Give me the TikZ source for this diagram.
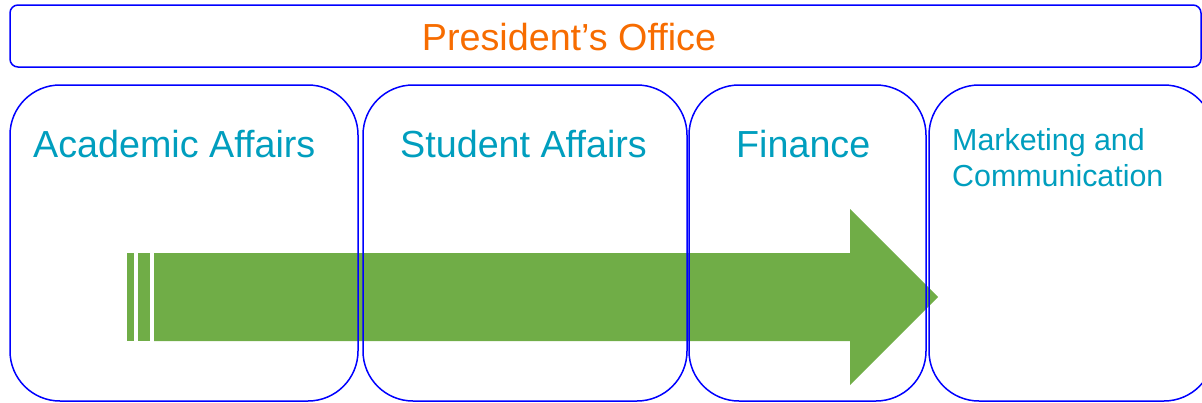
\documentclass[tikz,border=0pt]{standalone}
\usepackage{fontspec}
\setmainfont{Liberation Sans}
\definecolor{boxblue}{RGB}{0,0,255}
\definecolor{teal}{RGB}{0,158,190}
\definecolor{orng}{RGB}{247,108,0}
\definecolor{arrgreen}{RGB}{112,173,71}
\begin{document}
\begin{tikzpicture}[x=1pt,y=-1pt,
  dept/.style={draw=boxblue, line width=1.5pt, rounded corners=50pt, minimum height=316pt, inner sep=0pt, outer sep=0pt},
  topbox/.style={draw=boxblue, line width=1.5pt, rounded corners=8pt, minimum width=1191pt, minimum height=62pt, inner sep=0pt, outer sep=0pt},
  bigtxt/.style={text=teal, font=\fontsize{37.7}{45}\selectfont, inner sep=0pt, anchor=base west},
  smalltxt/.style={text=teal, font=\fontsize{30.4}{36}\selectfont, inner sep=0pt, anchor=base west},
  arrowfill/.style={fill=arrgreen, draw=none}]
\clip (0,0) rectangle (1202,402);
% striped arrow
\fill[arrowfill] (127,253) rectangle (134,341);
\fill[arrowfill] (138,253) rectangle (150,341);
\fill[arrowfill] (154,253) -- (850,253) -- (850,209) -- (938,297) -- (850,385) -- (850,341) -- (154,341) -- cycle;
% boxes
\node[topbox] (pres) at (605.5,36) {};
\node[dept, minimum width=348pt] (acad) at (184,243) {};
\node[dept, minimum width=324pt] (stud) at (525,243) {};
\node[dept, minimum width=237pt] (fin) at (807.5,243) {};
\node[dept, minimum width=285pt] (mark) at (1071.5,243) {};
% texts
\node[text=orng, font=\fontsize{37.7}{45}\selectfont, inner sep=0pt, anchor=base] (prest) at (569,50) {President’s Office};
\node[bigtxt] (acadt) at (33,157) {Academic Affairs};
\node[bigtxt] (studt) at (400,157) {Student Affairs};
\node[bigtxt] (fint) at (736,157) {Finance};
\node[smalltxt] (markt1) at (952,150) {Marketing and};
\node[smalltxt] (markt2) at (952,186) {Communication};
\end{tikzpicture}
\end{document}
